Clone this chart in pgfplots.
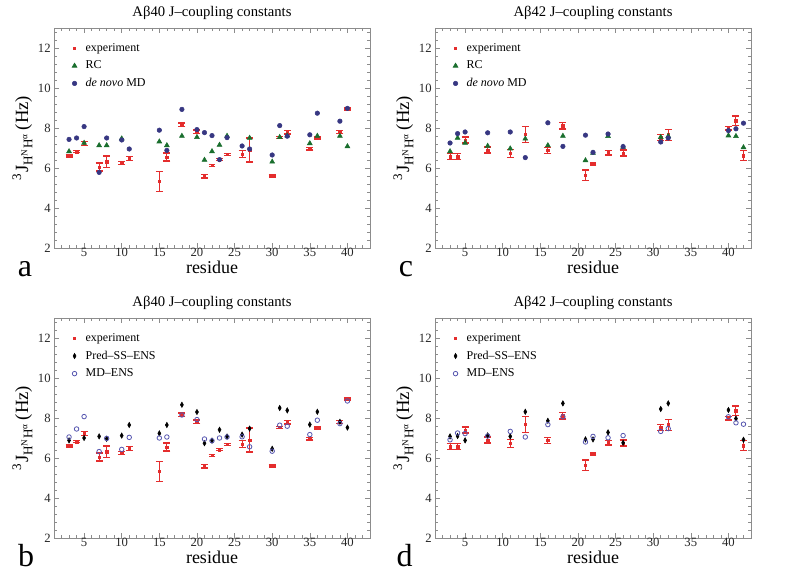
\documentclass[border=0pt]{standalone}
\usepackage{fontspec}
\setmainfont{Liberation Serif}
\usepackage{pgfplots}
\pgfplotsset{compat=1.18}
\usepackage{pgfplotstable}

\definecolor{expred}{RGB}{228,45,45}
\definecolor{rcgreen}{RGB}{25,110,45}
\definecolor{mdblue}{RGB}{55,55,130}
\definecolor{mdens}{RGB}{85,85,175}

% Abeta40 experiment
\pgfplotstableread{
r v e
3 6.60 0.05
4 6.82 0.05
5 7.22 0.10
7 6.05 0.20
8 6.32 0.28
10 6.26 0.07
11 6.46 0.10
15 5.33 0.50
16 6.55 0.20
18 8.17 0.08
20 7.82 0.08
21 5.58 0.08
22 6.13 0.05
23 6.42 0.06
24 6.68 0.04
26 6.70 0.18
27 6.90 0.60
30 5.60 0.05
31 7.54 0.05
32 7.78 0.08
35 6.97 0.07
36 7.50 0.05
39 7.80 0.07
40 8.95 0.05
}\expA
\pgfplotstableread{
r v
3 6.83
5 7.25
7 7.13
8 7.13
10 7.47
15 7.32
16 7.13
18 7.60
20 7.54
21 6.40
22 6.83
23 7.15
24 7.60
27 7.50
30 6.31
31 7.54
32 7.62
35 7.23
36 7.60
39 7.60
40 7.08
}\rcA
\pgfplotstableread{
r v
3 7.43
4 7.50
5 8.07
7 5.78
8 7.50
10 7.40
11 6.95
15 7.89
16 6.88
18 8.93
20 7.92
21 7.77
22 7.62
23 6.42
24 7.52
26 7.10
27 6.95
30 6.65
31 8.12
32 7.59
35 7.66
36 8.74
39 8.34
40 8.98
}\mdA
\pgfplotstableread{
r v
3 6.88
5 7.00
7 7.08
8 6.96
10 7.12
11 7.65
15 7.23
16 7.65
18 8.66
20 8.30
21 6.74
22 6.87
23 7.41
24 7.07
26 7.17
27 7.47
30 6.46
31 8.50
32 8.38
35 7.67
36 8.31
39 7.81
40 7.52
}\predA
\pgfplotstableread{
r v
3 7.05
4 7.45
5 8.07
7 6.32
8 6.98
10 6.43
11 7.03
15 7.00
16 7.05
18 8.15
20 7.92
21 6.95
22 6.86
23 7.00
24 7.05
26 7.06
27 6.56
30 6.34
31 7.64
32 7.59
35 7.17
36 7.89
39 7.72
40 8.85
}\mdensA
% Abeta42
\pgfplotstableread{
r v e
3 6.57 0.15
4 6.56 0.15
5 7.40 0.15
8 6.90 0.15
11 6.74 0.20
13 7.68 0.40
16 6.89 0.15
18 8.12 0.17
21 5.63 0.27
22 6.20 0.05
24 6.77 0.12
26 6.75 0.15
31 7.51 0.15
32 7.66 0.27
40 7.98 0.08
41 8.37 0.23
42 6.61 0.25
}\expB
\pgfplotstableread{
r v
3 6.83
4 7.50
5 7.25
8 7.10
11 6.97
13 7.46
16 7.13
18 7.60
21 6.38
22 6.75
24 7.59
26 7.05
31 7.54
32 7.59
40 7.62
41 7.59
42 7.03
}\rcB
\pgfplotstableread{
r v
3 7.25
4 7.72
5 7.80
8 7.76
11 7.80
13 6.52
16 8.26
18 7.08
21 7.64
22 6.78
24 7.70
26 7.07
31 7.30
32 7.50
40 7.87
41 7.96
42 8.24
}\mdB
\pgfplotstableread{
r v
3 7.08
4 7.10
5 6.88
8 7.13
11 7.08
13 8.31
16 7.86
18 8.73
21 6.93
22 6.93
24 7.28
26 6.76
31 8.45
32 8.73
40 8.40
41 7.97
42 6.91
}\predB
\pgfplotstableread{
r v
3 6.91
4 7.25
5 7.22
8 7.10
11 7.33
13 7.05
16 7.67
18 8.06
21 6.80
22 7.08
24 7.01
26 7.12
31 7.33
32 7.47
40 8.06
41 7.76
42 7.69
}\mdensB

\pgfplotsset{
  jbase/.style={
    scale only axis, width=237pt, height=165pt,
    xmin=1, xmax=43, ymin=2, ymax=13,
    xtick={5,10,...,40}, ytick={2,4,...,12},
    minor xtick={1,...,43},
    minor ytick={2.4,2.8,...,12.9},
    tick align=inside,
    major tick length=3.5pt, minor tick length=2pt,
    axis line style={black!45},
    every tick/.style={black!45, line width=0.4pt},
    tick label style={font=\fontsize{9.5}{10}\selectfont, black!85},
    xticklabel style={yshift=3.2pt},
    yticklabel style={xshift=1pt},
    /pgf/number format/assume math mode=true,
    xlabel={residue},
    xlabel style={font=\fontsize{13.5}{14}\selectfont, at={(axis description cs:0.5,-0.115)}, anchor=base, inner sep=0pt},
    ylabel={\textsuperscript{3}J\textsubscript{H\textsuperscript{N}H\textsuperscript{α}}\,(Hz)},
    ylabel style={font=\fontsize{14}{15}\selectfont, at={(axis description cs:-0.1,0.5)}, anchor=center, rotate=0},
    every axis title shift=0pt,
    title style={font=\fontsize{11}{12}\selectfont, at={(axis description cs:0.5,1.05)}, anchor=base, yshift=0pt},
    legend style={draw=none, fill=none, at={(axis description cs:0.045,0.94)}, anchor=north west,
      font=\fontsize{9}{10}\selectfont, inner sep=0pt, nodes={inner sep=1.5pt}, row sep=2.6pt},
    legend cell align=left,
    legend image code/.code={\path[draw=none, fill=none] (-0.06cm,-0.01cm) rectangle (0.34cm,0.01cm); \draw[##1, only marks] plot coordinates {(0.1cm,0cm)};},
  },
  exps/.style={only marks, mark=square*, mark size=0.9pt, color=expred, forget plot,
    /pgfplots/error bars/y dir=both, /pgfplots/error bars/y explicit,
    /pgfplots/error bars/error bar style={line width=0.8pt, draw=expred, color=expred},
    /pgfplots/error bars/error mark options={rotate=90, mark size=2.6pt, line width=1pt, draw=expred, color=expred}},
  explegend/.style={only marks, mark=square*, mark size=0.9pt, color=expred},
  rcs/.style={only marks, mark=triangle*, mark size=2.1pt, color=rcgreen, fill=rcgreen},
  mds/.style={only marks, mark=*, mark size=1.7pt, color=mdblue, fill=mdblue},
  preds/.style={only marks, mark=diamond*, mark size=2pt, color=black, fill=black, mark options={xscale=0.75}},
  mdenss/.style={only marks, mark=o, mark size=1.7pt, color=mdens, mark options={line width=0.6pt}},
}

\begin{document}
\begin{tikzpicture}
\useasboundingbox (0,0) rectangle (591.75pt,429.75pt);

% panel a
\begin{axis}[jbase, at={(40.5pt,243.75pt)}, anchor=south west, title={Aβ40 J–coupling constants}]
\addlegendimage{explegend}
\addlegendentry{experiment}
\addplot[exps] table[x=r, y=v, y error=e] {\expA};
\addplot[rcs] table[x=r, y=v] {\rcA};
\addlegendentry{RC}
\addplot[mds] table[x=r, y=v] {\mdA};
\addlegendentry{\textit{de novo} MD}
\end{axis}

% panel c
\begin{axis}[jbase, at={(326.25pt,243.75pt)}, anchor=south west, title={Aβ42 J–coupling constants}]
\addlegendimage{explegend}
\addlegendentry{experiment}
\addplot[exps] table[x=r, y=v, y error=e] {\expB};
\addplot[rcs] table[x=r, y=v] {\rcB};
\addlegendentry{RC}
\addplot[mds] table[x=r, y=v] {\mdB};
\addlegendentry{\textit{de novo} MD}
\end{axis}

% panel b
\begin{axis}[jbase, at={(40.5pt,26.25pt)}, anchor=south west, title={Aβ40 J–coupling constants}]
\addlegendimage{explegend}
\addlegendentry{experiment}
\addplot[exps] table[x=r, y=v, y error=e] {\expA};
\addplot[preds] table[x=r, y=v] {\predA};
\addlegendentry{Pred–SS–ENS}
\addplot[mdenss] table[x=r, y=v] {\mdensA};
\addlegendentry{MD–ENS}
\end{axis}

% panel d
\begin{axis}[jbase, at={(326.25pt,26.25pt)}, anchor=south west, title={Aβ42 J–coupling constants}]
\addlegendimage{explegend}
\addlegendentry{experiment}
\addplot[exps] table[x=r, y=v, y error=e] {\expB};
\addplot[preds] table[x=r, y=v] {\predB};
\addlegendentry{Pred–SS–ENS}
\addplot[mdenss] table[x=r, y=v] {\mdensB};
\addlegendentry{MD–ENS}
\end{axis}

\node[font=\fontsize{24}{26}\selectfont, anchor=base] at (18.75pt,222pt) {a};
\node[font=\fontsize{24}{26}\selectfont, anchor=base] at (19.5pt,4.5pt) {b};
\node[font=\fontsize{24}{26}\selectfont, anchor=base] at (304.5pt,222pt) {c};
\node[font=\fontsize{24}{26}\selectfont, anchor=base] at (303.5pt,4.5pt) {d};
\end{tikzpicture}
\end{document}
